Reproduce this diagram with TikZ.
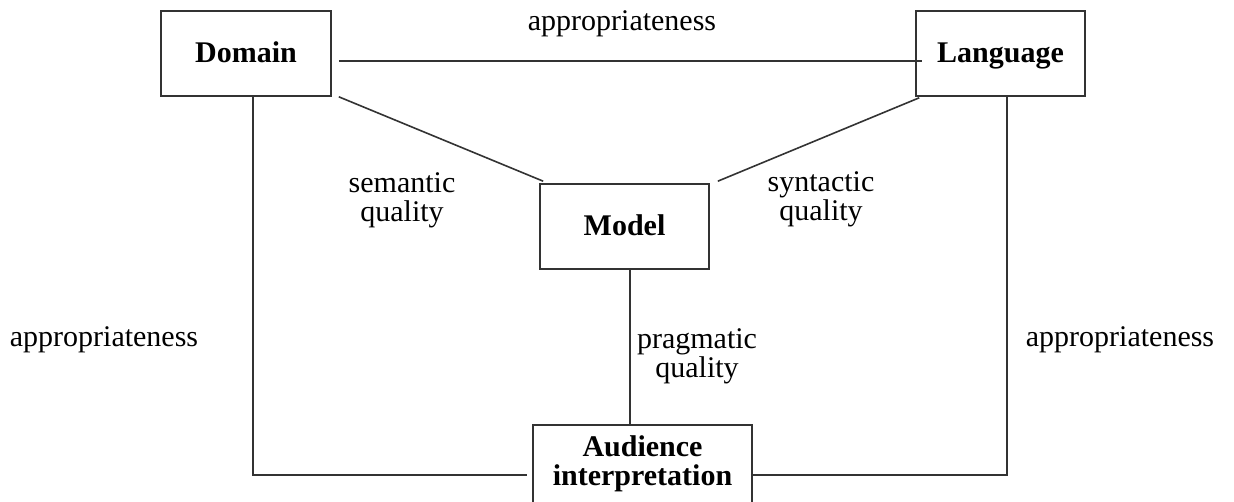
\documentclass[tikz,border=0pt]{standalone}
\usepackage{fontspec}
\setmainfont{Liberation Serif}
\usetikzlibrary{calc}
\begin{document}
\begin{tikzpicture}[x=1pt,y=-1pt,
  every node/.style={font=\fontsize{30}{29}\selectfont, inner sep=0pt},
  box/.style={draw=black!80, line width=1.6pt, text height=22pt, text depth=5pt,
    font=\fontsize{30}{29}\selectfont\bfseries},
  link/.style={draw=black!80, line width=1.6pt},
  lbl/.style={align=center}]
  \useasboundingbox (0,0) rectangle (1234,501);
  \clip (0,0) rectangle (1234,501);

  % concept boxes
  \node[box, minimum width=170, minimum height=85] (dom) at (246,53.5) {Domain};
  \node[box, minimum width=169, minimum height=85] (lang) at (1000.5,53.5) {Language};
  \node[box, minimum width=169, minimum height=85] (model) at (624.5,226.5) {Model};
  \node[draw=black!80, line width=1.6pt, minimum width=219, minimum height=100, anchor=north] (aud) at (642.5,424) {};
  \node[align=center, font=\fontsize{30}{28.5}\selectfont\bfseries] (audtext) at ($(aud.north)+(0,40)$) {Audience\\interpretation};

  % connector end points
  \coordinate (mbot) at ($(model.south)+(5.5,0)$);

  % connectors
  \draw[link] ($(dom.east)+(7,7.5)$) -- ($(lang.west)+(7,7.5)$);
  \draw[link] ($(dom.south east)+(7,0)$) -- ($(model.north west)+(4,-2)$);
  \draw[link] ($(lang.south west)+(4,1)$) -- ($(model.north east)+(8,-2)$);
  \draw[link] (mbot) -- (mbot |- aud.north);
  \draw[link] ($(dom.south)+(7,0)$) |- ($(aud.west)+(-5,0)$);
  \draw[link] ($(aud.east)+(-2,0)$) -| ($(lang.south)+(6.5,0)$);

  % quality labels
  \node (appTop) at (622,24) {appropriateness};
  \node (appLeft) at (104,340) {appropriateness};
  \node (appRight) at (1120,340) {appropriateness};
  \node[lbl] (sem) at (402,200) {semantic\\quality};
  \node[lbl] (syn) at (821,199) {syntactic\\quality};
  \node[lbl] (prag) at (697,356) {pragmatic\\quality};
\end{tikzpicture}
\end{document}
